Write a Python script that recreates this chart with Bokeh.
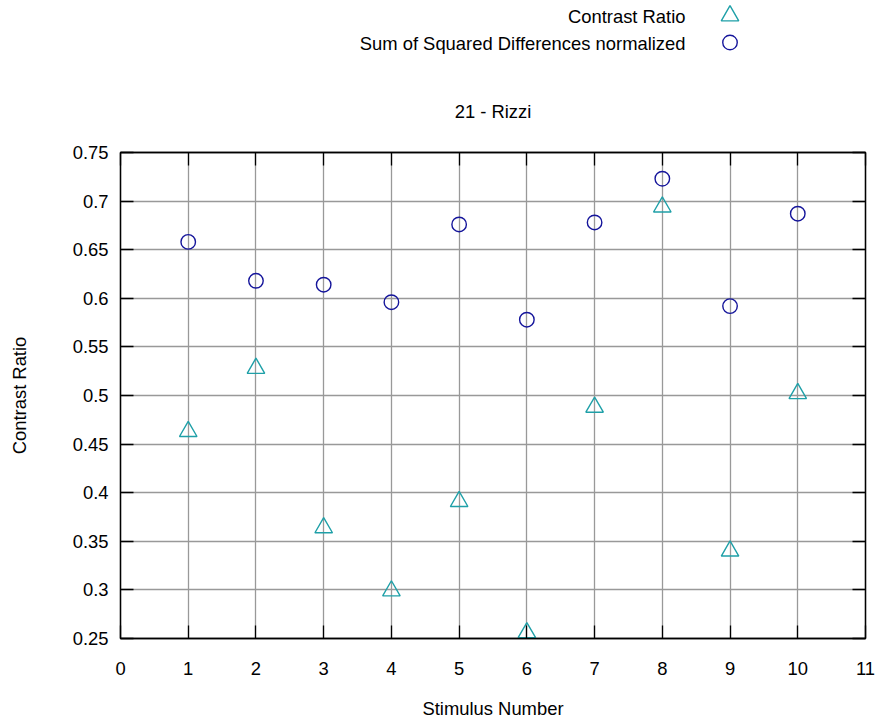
from bokeh.plotting import figure
from bokeh.layouts import column
from bokeh.models import Range1d, FixedTicker, LinearAxis, CustomJSTickFormatter
from bokeh.core.properties import value
from bokeh.embed import file_html
from bokeh.resources import INLINE

# ---- data ----
stimulus = [1, 2, 3, 4, 5, 6, 7, 8, 9, 10]
contrast_ratio = [0.463, 0.528, 0.364, 0.299, 0.391, 0.256, 0.488, 0.694, 0.340, 0.502]
ssd_normalized = [0.658, 0.618, 0.614, 0.596, 0.676, 0.578, 0.678, 0.723, 0.592, 0.687]

x_ticks = [0, 1, 2, 3, 4, 5, 6, 7, 8, 9, 10, 11]
y_ticks = [0.25, 0.3, 0.35, 0.4, 0.45, 0.5, 0.55, 0.6, 0.65, 0.7, 0.75]
y_tick_labels = ["0.25", "0.3", "0.35", "0.4", "0.45", "0.5", "0.55", "0.6", "0.65", "0.7", "0.75"]

title_text = "21 - Rizzi"
x_label = "Stimulus Number"
y_label = "Contrast Ratio"
series_names = ["Contrast Ratio", "Sum of Squared Differences normalized"]

FONT = "Liberation Sans"
FS = "18.4px"
TEAL = "#1fa0a8"
NAVY = "#15159b"
W = 879
HEAD_H = 68
FRAME_L, FRAME_R = 120, 865   # horizontal extent of the plotting frame (pixels)

# ---------------- header holding the key (gnuplot style: text, then symbol) -------------
# the column aligns this header's frame with the main frame; its ranges are pixel positions
head = figure(width=W, height=HEAD_H, output_backend="svg", toolbar_location=None,
              x_range=Range1d(FRAME_L, FRAME_R), y_range=Range1d(HEAD_H, 0),
              x_axis_type=None, y_axis_type=None,
              min_border_left=0, min_border_right=0, min_border_top=0, min_border_bottom=0)
head.outline_line_color = None
head.xgrid.visible = False
head.ygrid.visible = False
head.background_fill_color = "white"
head.border_fill_color = "white"

key_text_x = [685, 685]
key_row_y = [16, 43]
key_sym_x = 729.5
head.text(x=key_text_x, y=key_row_y, text=series_names, text_align="right",
          text_baseline="middle", text_font=value(FONT), text_font_size=value(FS),
          text_color="black")
head.scatter(x=[key_sym_x], y=[key_row_y[0] - 0.7], marker="triangle", size=17.5,
             fill_color=None, line_color=TEAL, line_width=1.4)
head.scatter(x=[key_sym_x], y=[key_row_y[1] - 1], marker="circle", size=14.5,
             fill_color=None, line_color=NAVY, line_width=1.4)

# ---------------- main plot ----------------
p = figure(width=W, height=722 - HEAD_H, output_backend="svg", toolbar_location=None,
           x_range=Range1d(0, 11), y_range=Range1d(0.25, 0.75),
           min_border_left=FRAME_L, min_border_right=W - FRAME_R,
           min_border_top=84, min_border_bottom=84,
           x_axis_label=x_label, y_axis_label=y_label)
p.background_fill_color = "white"
p.border_fill_color = "white"
p.outline_line_color = "black"
p.outline_line_width = 1.3

p.title.text = title_text
p.title.text_font = FONT
p.title.text_font_size = FS
p.title.text_font_style = "normal"
p.title.text_color = "black"
p.title.align = "center"
p.title.standoff = 61

for g in (p.xgrid, p.ygrid):
    g.grid_line_color = "#999999"
    g.grid_line_width = 1.3
p.xgrid.ticker = FixedTicker(ticks=x_ticks[1:-1])
p.ygrid.ticker = FixedTicker(ticks=y_ticks[1:-1])

def style_axis(ax):
    ax.major_tick_in = 13
    ax.major_tick_out = 0
    ax.minor_tick_in = 0
    ax.minor_tick_out = 0
    ax.major_tick_line_color = "black"
    ax.major_tick_line_width = 1.3
    ax.axis_line_color = "black"
    ax.axis_line_width = 1.3
    ax.major_label_text_font = FONT
    ax.major_label_text_font_size = FS
    ax.major_label_text_color = "black"
    ax.axis_label_text_font = FONT
    ax.axis_label_text_font_size = FS
    ax.axis_label_text_font_style = "normal"
    ax.axis_label_text_color = "black"

xa = p.xaxis[0]
ya = p.yaxis[0]
xa.ticker = FixedTicker(ticks=x_ticks)
ya.ticker = FixedTicker(ticks=y_ticks)
ya.major_label_overrides = {t: s for t, s in zip(y_ticks, y_tick_labels)}
style_axis(xa)
style_axis(ya)
xa.major_label_standoff = 23
xa.axis_label_standoff = 20
ya.major_label_standoff = 12
ya.axis_label_standoff = 40

# mirrored inward ticks on top and right (gnuplot "mirror")
top_ax = LinearAxis(ticker=FixedTicker(ticks=x_ticks),
                    formatter=CustomJSTickFormatter(code="return ''"))
right_ax = LinearAxis(ticker=FixedTicker(ticks=y_ticks),
                      formatter=CustomJSTickFormatter(code="return ''"))
for ax in (top_ax, right_ax):
    style_axis(ax)
    ax.major_label_standoff = 0
p.add_layout(top_ax, "above")
p.add_layout(right_ax, "right")

p.scatter(stimulus, contrast_ratio, marker="triangle", size=17.5,
          fill_color=None, line_color=TEAL, line_width=1.4)
p.scatter(stimulus, ssd_normalized, marker="circle", size=14.5,
          fill_color=None, line_color=NAVY, line_width=1.4)

layout = column(head, p, spacing=0)
open("out.html", "w").write(file_html(layout, INLINE))
